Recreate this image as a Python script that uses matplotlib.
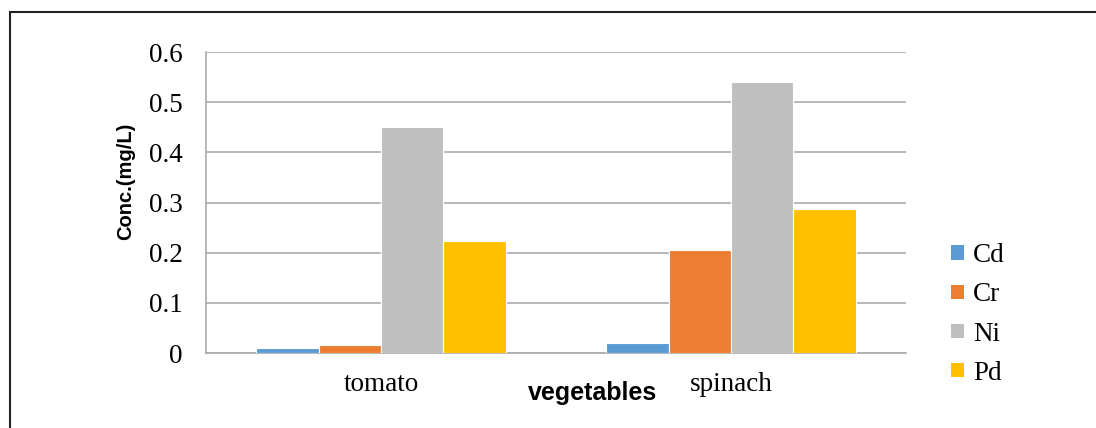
import numpy as np
import matplotlib
matplotlib.use('Agg')
import matplotlib.pyplot as plt
from matplotlib.patches import Patch, Rectangle

# Heavy metal concentrations in vegetables
vegetables = ['tomato', 'spinach']
metals = ['Cd', 'Cr', 'Ni', 'Pd']
cd = [0.010, 0.020]
cr = [0.016, 0.205]
ni = [0.451, 0.541]
pd_ = [0.223, 0.287]
colors = ['#5B9BD5', '#ED7D31', '#BFBFBF', '#FFC000']

serif = 'Liberation Serif'
sans = 'Liberation Sans'

fig = plt.figure(figsize=(10.96, 4.28), dpi=100)
ax = fig.add_axes([0.188, 0.1752, 0.6386, 0.7033])

x = np.arange(len(vegetables))
w = 0.178
for i, (vals, c) in enumerate(zip([cd, cr, ni, pd_], colors)):
  ax.bar(x + (i - 1.5) * w, vals, width=w, color=c, edgecolor='white', linewidth=0.8, zorder=3)

ax.set_xlim(-0.5, 1.5)
ax.set_ylim(0, 0.6)
ax.set_yticks(np.arange(0, 0.61, 0.1))
ax.set_yticklabels(['0', '0.1', '0.2', '0.3', '0.4', '0.5', '0.6'], fontfamily=serif, fontsize=19.5)
ax.set_xticks(x)
ax.set_xticklabels(vegetables, fontfamily=serif, fontsize=19.5)
ax.tick_params(axis='y', length=0, pad=17)
ax.tick_params(axis='x', length=0, pad=14)
ax.grid(axis='y', color='#ababab', linewidth=1.2, zorder=0)
for s in ['top', 'right']:
  ax.spines[s].set_visible(False)
for s in ['left', 'bottom']:
  ax.spines[s].set_color('#ababab')
  ax.spines[s].set_linewidth(1.2)

fig.text(126 / 1096, 1 - 181 / 428, 'Conc.(mg/L)', rotation=90, ha='center', va='center',
         fontfamily=sans, fontweight='bold', fontsize=14.5)
fig.text(593 / 1096, 1 - 393 / 428, 'vegetables', ha='center', va='center',
         fontfamily=sans, fontweight='bold', fontsize=18)

handles = [Patch(facecolor=c, edgecolor='none') for c in colors]
ax.legend(handles, metals, loc='upper left', bbox_to_anchor=(927 / 1096, 1 - 219 / 428),
          bbox_transform=fig.transFigure, frameon=False, handlelength=0.45, handleheight=0.45,
          handletextpad=0.35, labelspacing=0.52, prop={'family': serif, 'size': 19.5})

# outer frame around the chart
fig.patches.append(Rectangle((10 / 1096, -0.1), 1.2, 1.1 - 12 / 428, transform=fig.transFigure,
                             fill=False, edgecolor='#222222', linewidth=1.5, clip_on=False))

fig.savefig('out.png', dpi=100)
